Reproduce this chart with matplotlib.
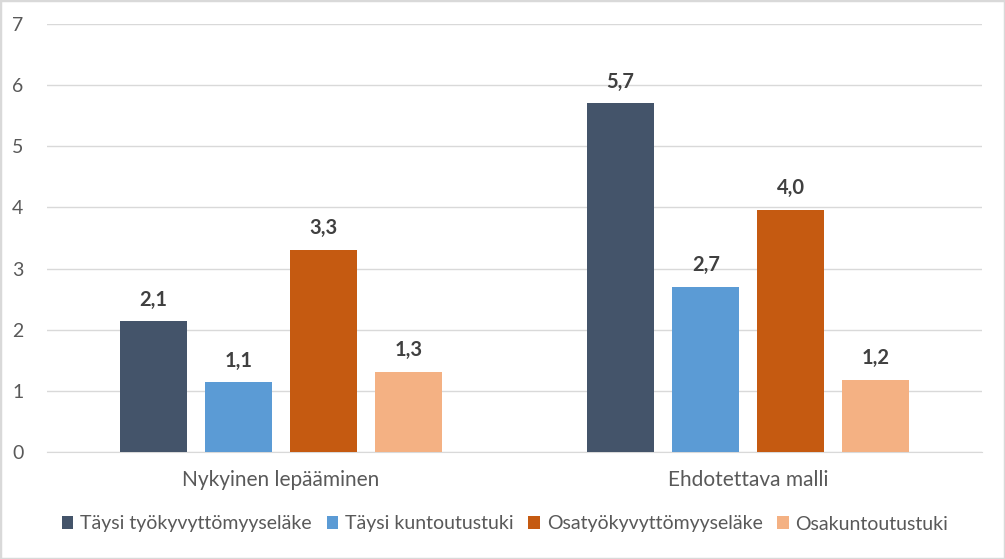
import matplotlib
matplotlib.use("Agg")
import matplotlib.pyplot as plt
import numpy as np

categories = ["Nykyinen lepääminen", "Ehdotettava malli"]
series_names = ["Täysi työkyvyttömyyseläke", "Täysi kuntoutustuki",
                "Osatyökyvyttömyyseläke", "Osakuntoutustuki"]
values_tyoky = [2.14, 5.70]
values_kuntou = [1.14, 2.70]
values_osatyo = [3.31, 3.96]
values_osakun = [1.31, 1.18]
colors = ["#44546A", "#5B9BD5", "#C55A11", "#F4B183"]
yticks = [0, 1, 2, 3, 4, 5, 6, 7]

plt.rcParams['font.family'] = ['Lato', 'DejaVu Sans']

fig = plt.figure(figsize=(10.05, 5.59), dpi=100)
fig.patch.set_facecolor("white")
fig.patches.append(matplotlib.patches.Rectangle((0, 0), 1, 1, transform=fig.transFigure,
                                                fill=False, edgecolor="#D9D9D9", linewidth=2.5))
ax = fig.add_axes([47/1005, 1-452/559, 935/1005, (452-24)/559])

series = [values_tyoky, values_kuntou, values_osatyo, values_osakun]
x = np.arange(len(categories))
step = 0.182
width = 0.1433
for i, (name, vals, c) in enumerate(zip(series_names, series, colors)):
    pos = x + (i - 1.5) * step
    bars = ax.bar(pos, vals, width=width, color=c, label=name, zorder=3)
    for b, v in zip(bars, vals):
        ax.text(b.get_x() + b.get_width()/2, v + 0.19, f"{v:.1f}".replace(".", ","),
                ha="center", va="bottom", fontsize=14.5, fontweight="bold", color="#404040")

ax.set_xlim(-0.5, 1.5)
ax.set_ylim(0, 7)
ax.set_yticks(yticks)
ax.set_yticklabels([str(t) for t in yticks])
ax.set_xticks(x)
ax.set_xticklabels(categories)
ax.grid(axis="y", color="#D9D9D9", linewidth=1, zorder=0)
for s in ["top", "right", "left"]:
    ax.spines[s].set_visible(False)
ax.spines["bottom"].set_color("#D9D9D9")
ax.tick_params(axis="both", length=0, labelcolor="#595959")
ax.tick_params(axis="y", pad=17, labelsize=14)
ax.tick_params(axis="x", pad=13, labelsize=15)

leg = ax.legend(loc="center", bbox_to_anchor=(0.49, -72/428), ncol=4, frameon=False,
                fontsize=14, handlelength=0.6, handleheight=0.6, handletextpad=0.35,
                columnspacing=0.75, labelcolor="#595959")

fig.savefig("out.png", dpi=100, facecolor="white")
